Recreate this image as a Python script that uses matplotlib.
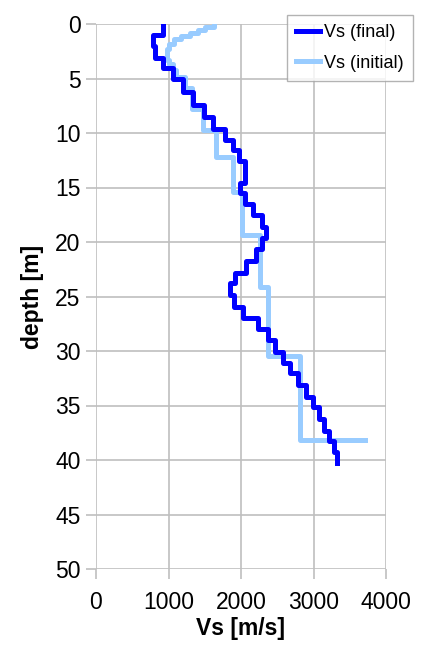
import numpy as np
import matplotlib
matplotlib.use('Agg')
import matplotlib.pyplot as plt

plt.rcParams['font.family'] = ['Liberation Sans', 'DejaVu Sans']

# final Vs profile: layer top depths [m], Vs [m/s], bottom of last layer
finalTop = [0.0, 1.0, 2.0, 3.1, 4.0, 5.0, 6.2, 7.4, 8.5, 9.6, 10.6, 11.6, 12.6, 14.6,
            15.5, 16.5, 17.5, 18.6, 19.6, 20.6, 21.7, 22.8, 23.8, 24.9, 26.0, 27.0,
            28.0, 29.0, 30.1, 31.1, 32.0, 33.1, 34.2, 35.1, 36.2, 37.3, 38.3, 39.3]
finalVs  = [920, 790, 820, 925, 1060, 1200, 1340, 1490, 1620, 1780, 1890, 1970, 2050, 1990,
            2060, 2165, 2290, 2340, 2290, 2200, 2065, 1920, 1855, 1910, 2030, 2230,
            2370, 2466, 2580, 2670, 2785, 2890, 2990, 3070, 3150, 3220, 3280, 3320]
finalBottom = 40.3

# initial Vs profile (last value is the half-space)
initTop = [0.0, 0.3, 0.55, 0.8, 1.1, 1.4, 1.8, 2.3, 3.3, 3.7, 4.2, 4.9, 5.9, 7.8,
           9.7, 12.2, 15.4, 19.4, 24.1, 30.5, 38.2]
initVs  = [1630, 1510, 1400, 1290, 1170, 1080, 1010, 975, 1010, 1060, 1100, 1225, 1330, 1470,
           1650, 1890, 2015, 2260, 2375, 2810, 3705]


def stairs(tops, vs, bottom=None):
    xs, ys = [], []
    for i in range(len(vs)):
        if i + 1 < len(tops):
            d2 = tops[i + 1]
        elif bottom is not None:
            d2 = bottom
        else:
            xs.append(vs[i]); ys.append(tops[i])
            continue
        xs += [vs[i], vs[i]]
        ys += [tops[i], d2]
    return xs, ys


fig = plt.figure(figsize=(4.22, 6.49), dpi=100)
ax = fig.add_axes([96/422, 1-569/649, 290/422, 545/649])

xi, yi = stairs(initTop, initVs)
xf, yf = stairs(finalTop, finalVs, finalBottom)
lf, = ax.plot(xf, yf, color='#0000FF', lw=3.6, label='Vs (final)', zorder=4,
              solid_joinstyle='round')
li, = ax.plot(xi, yi, color='#99CCFF', lw=3.6, label='Vs (initial)', zorder=3,
              solid_joinstyle='round')

ax.set_xlim(0, 4000)
ax.set_ylim(50, 0)
ax.set_xticks(np.arange(0, 4001, 1000))
ax.set_yticks(np.arange(0, 51, 5))
ax.grid(True, color='#bfbfbf', lw=1.2)
ax.set_axisbelow(True)
for s in ax.spines.values():
    s.set_visible(False)
ax.tick_params(axis='x', length=7, width=1.2, color='#bfbfbf', labelsize=16.5, pad=9)
ax.tick_params(axis='y', length=7, width=1.2, color='#bfbfbf', labelsize=16.5, pad=4)
ax.set_xlabel('Vs [m/s]', fontsize=16.5, fontweight='bold', labelpad=2)
ax.set_ylabel('depth [m]', fontsize=16.5, fontweight='bold', labelpad=8)

leg = fig.legend(handles=[lf, li], loc='upper left',
                 bbox_to_anchor=(287/422, 1-15/649), fontsize=13, frameon=True,
                 fancybox=False, edgecolor='#a0a0a0', handlelength=1.3, handletextpad=0.25,
                 borderpad=0.5, labelspacing=0.75, borderaxespad=0)
leg.get_frame().set_linewidth(1.0)

plt.savefig('out.png', dpi=100)
